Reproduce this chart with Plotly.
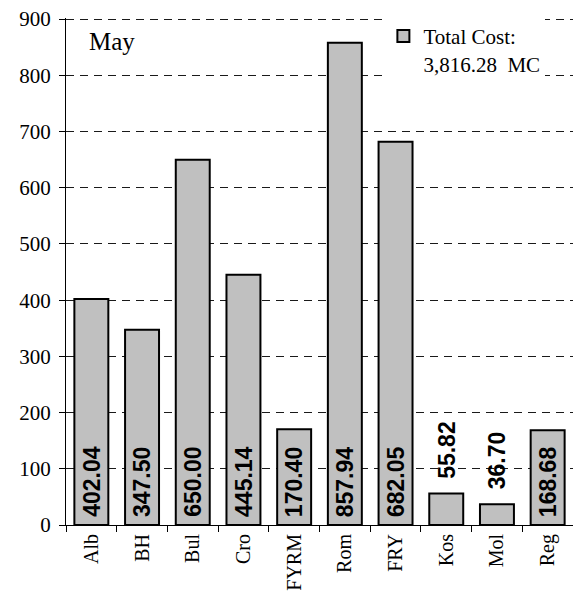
import plotly.graph_objects as go

# Monthly cost per country (MC)
countries = ["Alb", "BH", "Bul", "Cro", "FYRM", "Rom", "FRY", "Kos", "Mol", "Reg"]
costs = [402.04, 347.50, 650.00, 445.14, 170.40, 857.94, 682.05, 55.82, 36.70, 168.68]
month = "May"
total_label = "Total Cost:<br>3,816.28  MC"
y_ticks = [0, 100, 200, 300, 400, 500, 600, 700, 800, 900]

SERIF = "Liberation Serif, Times New Roman, serif"
SANS = "Liberation Sans, Arial, sans-serif"
LABEL_FONT = dict(family=SANS, size=23, color="black", weight="bold")

fig = go.Figure()
fig.add_trace(go.Bar(
    x=countries,
    y=costs,
    name=total_label,
    marker=dict(color="#C0C0C0", line=dict(color="black", width=2)),
    hoverinfo="x+y",
))

# value labels: written up from the base inside tall bars,
# and just above the bar when the bar is too short to hold them
annotations = []
for c, v in zip(countries, costs):
    inside = v >= 100
    annotations.append(dict(
        x=c, y=0 if inside else v, xref="x", yref="y",
        text=f"{v:.2f}", textangle=-90, showarrow=False,
        xanchor="center", yanchor="bottom",
        yshift=6 if inside else 13,
        font=LABEL_FONT,
    ))
annotations.append(dict(
    x=0.042, y=0.984, xref="paper", yref="paper",
    text=month, showarrow=False, xanchor="left", yanchor="top",
    font=dict(family=SERIF, size=25, color="black"),
))

fig.update_layout(
    width=573, height=597,
    margin=dict(l=66, r=0, t=18, b=72),
    paper_bgcolor="white", plot_bgcolor="white",
    bargap=0.33,
    showlegend=True,
    legend=dict(
        x=0.626, y=1.004, xanchor="left", yanchor="top",
        bgcolor="white", borderwidth=0,
        font=dict(family=SERIF, size=21, color="black"),
        valign="top",
    ),
    annotations=annotations,
    xaxis=dict(
        tickson="boundaries", ticks="outside", ticklen=6, tickcolor="black",
        showline=True, linecolor="black", linewidth=1,
        showgrid=False, tickangle=-90,
        tickfont=dict(family=SERIF, size=20, color="black"),
    ),
    yaxis=dict(
        # a little headroom so the 900 gridline is kept at the top edge
        range=[0, 902], tickvals=y_ticks,
        ticks="outside", ticklen=6, tickcolor="black",
        showline=True, linecolor="black", linewidth=1,
        showgrid=True, gridcolor="#1a1a1a", gridwidth=1, griddash="8px,6px",
        zeroline=False,
        tickfont=dict(family=SERIF, size=21, color="black"),
        ticklabelstandoff=4,
    ),
)

fig.write_html("out.html")
